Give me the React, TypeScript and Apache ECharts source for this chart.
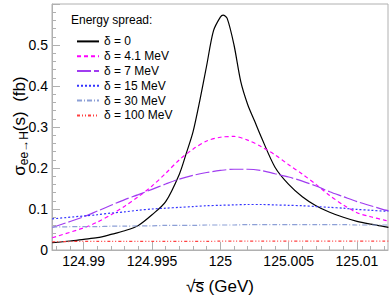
import React, { useEffect, useRef } from "react";
import * as echarts from "echarts";

// x tick labels (GeV)
const xTickLabels = ["124.99", "124.995", "125", "125.005", "125.01"];
const xMinorTickValues = [
  124.988, 124.989, 124.99, 124.991, 124.992, 124.993, 124.994, 124.995, 124.996,
  124.997, 124.998, 124.999, 125.0, 125.001, 125.002, 125.003, 125.004, 125.005,
  125.006, 125.007, 125.008, 125.009, 125.01, 125.011, 125.012,
];

// delta = 0
const xBlack = [
  124.9877, 124.989, 124.99, 124.991, 124.992, 124.993, 124.994, 124.995, 124.996,
  124.997, 124.9975, 124.998, 124.9985, 124.999, 124.9995, 125.0, 125.0002, 125.0005,
  125.001, 125.0015, 125.002, 125.0025, 125.003, 125.004, 125.005, 125.006, 125.007,
  125.008, 125.009, 125.01, 125.011, 125.012, 125.0123,
];
const yBlack = [
  0.018, 0.022, 0.026, 0.03, 0.038, 0.047, 0.06, 0.086, 0.118,
  0.185, 0.235, 0.288, 0.365, 0.45, 0.535, 0.568, 0.573, 0.565,
  0.5, 0.41, 0.355, 0.315, 0.275, 0.202, 0.16, 0.13, 0.108,
  0.092, 0.08, 0.07, 0.063, 0.057, 0.055,
];

// common grid for smeared curves
const xGrid = [
  124.9877, 124.99, 124.991, 124.992, 124.993, 124.994, 124.995, 124.996, 124.997,
  124.998, 124.999, 125.0, 125.001, 125.002, 125.003, 125.004, 125.005, 125.006,
  125.007, 125.008, 125.009, 125.01, 125.011, 125.012, 125.0123,
];
const y41 = [
  0.03, 0.054, 0.068, 0.086, 0.107, 0.13, 0.156, 0.187, 0.22,
  0.246, 0.266, 0.275, 0.277, 0.268, 0.252, 0.232, 0.208, 0.185,
  0.16, 0.133, 0.11, 0.091, 0.081, 0.073, 0.07,
];
const y7 = [
  0.055, 0.081, 0.095, 0.109, 0.123, 0.135, 0.148, 0.161, 0.173,
  0.182, 0.189, 0.194, 0.197, 0.197, 0.194, 0.186, 0.178, 0.168,
  0.156, 0.142, 0.13, 0.118, 0.108, 0.098, 0.096,
];
const y15 = [
  0.076, 0.083, 0.086, 0.09, 0.093, 0.097, 0.1, 0.102, 0.104,
  0.106, 0.108, 0.109, 0.11, 0.111, 0.111, 0.11, 0.109, 0.108,
  0.106, 0.104, 0.102, 0.099, 0.097, 0.095, 0.095,
];
const y30 = [
  0.056, 0.057, 0.057, 0.058, 0.058, 0.059, 0.059, 0.06, 0.06,
  0.06, 0.061, 0.061, 0.061, 0.062, 0.062, 0.062, 0.062, 0.062,
  0.062, 0.062, 0.062, 0.061, 0.061, 0.061, 0.061,
];
const y100 = [
  0.02, 0.021, 0.021, 0.021, 0.021, 0.021, 0.021, 0.021, 0.021,
  0.021, 0.021, 0.0215, 0.0215, 0.0215, 0.0215, 0.0215, 0.0215, 0.0215,
  0.0215, 0.0215, 0.0215, 0.0215, 0.0215, 0.0215, 0.0215,
];

const seriesNames = [
  "δ = 0",
  "δ = 4.1 MeV",
  "δ = 7 MeV",
  "δ = 15 MeV",
  "δ = 30 MeV",
  "δ = 100 MeV",
];

// y-axis title pieces: main symbol, subscript, rest
const yTitleParts = ["σ", "ee→H", "(s)  (fb)"];

const FONT = "Liberation Sans, Arial, Helvetica, sans-serif";

function measure(text: string, size: number): number {
  const c = document.createElement("canvas").getContext("2d");
  if (!c) return text.length * size * 0.55;
  c.font = `${size}px ${FONT}`;
  return c.measureText(text).width;
}

export default function App() {
  const ref = useRef<HTMLDivElement>(null);
  useEffect(() => {
    if (!ref.current) return;
    const chart = echarts.init(ref.current, undefined, { renderer: "svg" });
    const pair = (xs: number[], ys: number[]) => xs.map((x, i) => [x, ys[i]]);
    const mk = (
      name: string,
      data: number[][],
      color: string,
      type: any,
      width = 1.2
    ) => ({
      name,
      type: "line",
      data,
      symbol: "none",
      showSymbol: false,
      smooth: 0.3,
      xAxisIndex: 0,
      yAxisIndex: 0,
      lineStyle: { color, width, type },
      itemStyle: { color },
    });
    const xMin = 124.98768;
    const xMax = 125.01227;

    // y title layout (rotated, reading bottom to top)
    const mainSize = 17;
    const subSize = 12;
    const w1 = measure(yTitleParts[0], mainSize);
    const w2 = measure(yTitleParts[1], subSize);
    const w3 = measure(yTitleParts[2], mainSize);
    const total = w1 + w2 + w3;
    const yCenter = 126;
    const yStart = yCenter + total / 2;
    const titleX = 19;
    const subX = 24;
    const rot = Math.PI / 2;
    const titleText = (text: string, x: number, y: number, size: number) => ({
      type: "text",
      x,
      y,
      rotation: rot,
      style: {
        text,
        fontSize: size,
        fontFamily: FONT,
        fill: "#000",
        align: "left",
        verticalAlign: "middle",
      },
    });

    const option: any = {
      animation: false,
      textStyle: { fontFamily: FONT },
      grid: {
        left: 52,
        right: 2,
        top: 4,
        bottom: 38,
        show: true,
        borderColor: "#b0b0b0",
        borderWidth: 1,
      },
      xAxis: [
        {
          type: "value",
          min: xMin,
          max: xMax,
          position: "bottom",
          axisLine: { show: true, lineStyle: { color: "#b0b0b0" } },
          axisTick: {
            show: true,
            inside: true,
            length: 8,
            lineStyle: { color: "#b0b0b0" },
            customValues: xTickLabels.map((s) => parseFloat(s)),
          },
          axisLabel: {
            show: true,
            color: "#000",
            fontSize: 14,
            fontFamily: FONT,
            margin: 4,
            customValues: xTickLabels.map((s) => parseFloat(s)),
            formatter: (v: number) => {
              const idx = xTickLabels.findIndex((s) => Math.abs(parseFloat(s) - v) < 1e-7);
              return idx >= 0 ? xTickLabels[idx] : "";
            },
          },
          splitLine: { show: false },
          name: "√s (GeV)",
          nameLocation: "middle",
          nameGap: 28,
          nameTextStyle: { color: "#000", fontSize: 17, fontFamily: FONT },
        },
        {
          type: "value",
          min: xMin,
          max: xMax,
          position: "bottom",
          axisLine: { show: false },
          axisTick: {
            show: true,
            inside: true,
            length: 4,
            lineStyle: { color: "#b0b0b0" },
            customValues: xMinorTickValues,
          },
          axisLabel: { show: false },
          splitLine: { show: false },
        },
      ],
      yAxis: {
        type: "value",
        min: 0,
        max: 0.6,
        interval: 0.1,
        axisLine: { show: true, lineStyle: { color: "#b0b0b0" } },
        axisTick: { show: true, inside: true, length: 8, lineStyle: { color: "#b0b0b0" } },
        minorTick: {
          show: true,
          splitNumber: 5,
          length: 4,
          lineStyle: { color: "#b0b0b0" },
        },
        axisLabel: {
          color: "#000",
          fontSize: 14,
          fontFamily: FONT,
          margin: 4,
          showMaxLabel: false,
          formatter: (v: number) => (v === 0 ? "0" : String(Math.round(v * 10) / 10)),
        },
        splitLine: { show: false },
      },
      legend: {
        orient: "vertical",
        left: 71,
        top: 29,
        itemWidth: 22,
        itemHeight: 10,
        itemGap: 0,
        itemTextGap: 4,
        itemStyle: { opacity: 0 },
        textStyle: { fontSize: 12, fontFamily: FONT, color: "#000", lineHeight: 14.8 },
        data: seriesNames,
      },
      graphic: [
        {
          type: "text",
          left: 71,
          top: 14,
          style: { text: "Energy spread:", fontSize: 12, fontFamily: FONT, fill: "#000" },
        },
        titleText(yTitleParts[0], titleX, yStart, mainSize),
        titleText(yTitleParts[1], subX, yStart - w1, subSize),
        titleText(yTitleParts[2], titleX, yStart - w1 - w2, mainSize),
        {
          type: "line",
          shape: { x1: 193.5, y1: 282.5, x2: 204, y2: 282.5 },
          style: { stroke: "#000", lineWidth: 1 },
        },
      ],
      series: [
        mk(seriesNames[0], pair(xBlack, yBlack), "#000000", "solid"),
        mk(seriesNames[1], pair(xGrid, y41), "#ff00ff", [4, 3]),
        mk(seriesNames[2], pair(xGrid, y7), "#a03cf0", [14, 3]),
        mk(seriesNames[3], pair(xGrid, y15), "#3333ff", [2, 2]),
        mk(seriesNames[4], pair(xGrid, y30), "#8c9fd6", [5, 2, 1, 2]),
        mk(seriesNames[5], pair(xGrid, y100), "#ff4040", [3, 2, 1, 2, 1, 2]),
      ],
    };
    chart.setOption(option);
    return () => chart.dispose();
  }, []);
  return (
    <div
      ref={ref}
      style={{ position: "absolute", left: 0, top: 0, width: 390, height: 300, background: "#fff" }}
    />
  );
}
